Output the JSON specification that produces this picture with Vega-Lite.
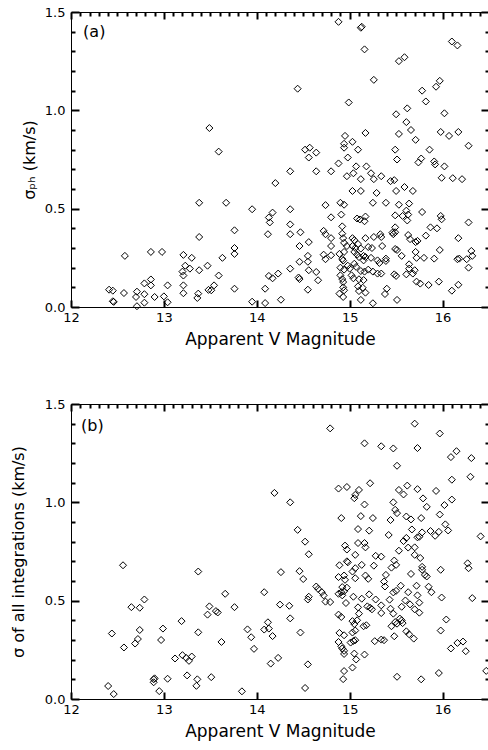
{
  "$schema": "https://vega.github.io/schema/vega-lite/v6.json",
  "padding": {"left": 9, "top": 5, "right": 1, "bottom": 2},
  "background": "white",
  "config": {
    "view": {"stroke": "black", "strokeWidth": 1},
    "axis": {"domain": false, "grid": false, "ticks": true, "tickOpacity": 1, "labelColor": "black", "titleColor": "black", "labelFont": "DejaVu Sans", "titleFont": "DejaVu Sans", "labelFontSize": 13, "titleFontSize": 16, "titleFontWeight": "normal", "tickWidth": 2, "labelOverlap": false, "labelFlush": false, "labelBound": false},
    "text": {"font": "DejaVu Sans"}
  },
  "spacing": 49,
  "datasets": {
    "a": [
      {"m":13.49,"s":0.91},{"m":14.88,"s":1.45},{"m":14.44,"s":1.11},{"m":13.59,"s":0.79},{"m":14.52,"s":0.80},{"m":14.57,"s":0.81},{"m":14.64,"s":0.785},{"m":14.56,"s":0.76},{"m":14.88,"s":0.73},{"m":15.12,"s":1.42},{"m":15.13,"s":1.425},{"m":15.16,"s":1.31},{"m":16.10,"s":1.35},{"m":16.16,"s":1.33},{"m":15.53,"s":1.25},{"m":15.59,"s":1.27},{"m":15.26,"s":1.155},{"m":15.78,"s":1.10},{"m":15.93,"s":1.12},{"m":15.97,"s":1.15},{"m":14.99,"s":1.04},{"m":15.82,"s":1.045},{"m":15.62,"s":1.01},{"m":15.50,"s":0.98},{"m":16.02,"s":0.985},{"m":15.61,"s":0.94},{"m":15.66,"s":0.90},{"m":15.53,"s":0.88},{"m":15.17,"s":0.885},{"m":14.95,"s":0.87},{"m":14.94,"s":0.83},{"m":14.94,"s":0.81},{"m":15.03,"s":0.84},{"m":15.09,"s":0.80},{"m":15.98,"s":0.89},{"m":16.07,"s":0.87},{"m":16.17,"s":0.89},{"m":15.71,"s":0.85},{"m":16.28,"s":0.82},{"m":15.49,"s":0.80},{"m":15.86,"s":0.80},{"m":14.98,"s":0.76},{"m":15.07,"s":0.715},{"m":15.18,"s":0.715},{"m":15.51,"s":0.75},{"m":15.74,"s":0.735},{"m":15.77,"s":0.755},{"m":15.91,"s":0.74},{"m":15.92,"s":0.725},{"m":16.02,"s":0.715},
      {"m":13.38,"s":0.53},{"m":13.38,"s":0.356},{"m":12.58,"s":0.26},{"m":12.86,"s":0.28},{"m":12.98,"s":0.28},{"m":13.21,"s":0.265},{"m":13.30,"s":0.25},{"m":13.23,"s":0.21},{"m":13.20,"s":0.18},{"m":13.21,"s":0.16},{"m":13.28,"s":0.195},{"m":13.38,"s":0.187},{"m":13.47,"s":0.21},{"m":12.86,"s":0.14},{"m":12.86,"s":0.11},{"m":12.79,"s":0.12},{"m":13.04,"s":0.11},{"m":13.21,"s":0.11},{"m":13.21,"s":0.07},{"m":12.41,"s":0.088},{"m":12.45,"s":0.083},{"m":12.57,"s":0.071},{"m":12.71,"s":0.078},{"m":12.70,"s":0.051},{"m":12.79,"s":0.065},{"m":12.90,"s":0.051},{"m":13.00,"s":0.054},{"m":13.04,"s":0.024},{"m":12.79,"s":0.022},{"m":12.45,"s":0.029},{"m":12.46,"s":0.026},{"m":12.71,"s":0.004},{"m":13.37,"s":0.068},{"m":13.36,"s":0.046},{"m":13.48,"s":0.087},
      {"m":14.36,"s":0.69},{"m":14.64,"s":0.69},{"m":14.80,"s":0.69},{"m":14.20,"s":0.63},{"m":13.67,"s":0.53},{"m":13.95,"s":0.497},{"m":14.13,"s":0.455},{"m":14.17,"s":0.48},{"m":14.14,"s":0.43},{"m":14.36,"s":0.497},{"m":14.74,"s":0.518},{"m":14.80,"s":0.456},{"m":13.76,"s":0.39},{"m":14.12,"s":0.37},{"m":14.36,"s":0.42},{"m":14.36,"s":0.37},{"m":14.47,"s":0.38},{"m":14.56,"s":0.33},{"m":14.46,"s":0.31},{"m":14.72,"s":0.387},{"m":14.74,"s":0.37},{"m":14.80,"s":0.35},{"m":14.80,"s":0.31},{"m":13.76,"s":0.30},{"m":13.76,"s":0.27},{"m":13.63,"s":0.25},{"m":13.59,"s":0.16},{"m":13.54,"s":0.11},{"m":13.51,"s":0.085},{"m":13.76,"s":0.093},{"m":14.13,"s":0.158},{"m":14.17,"s":0.146},{"m":14.23,"s":0.17},{"m":14.36,"s":0.195},{"m":14.45,"s":0.15},{"m":14.46,"s":0.142},{"m":14.46,"s":0.23},{"m":14.55,"s":0.26},{"m":14.55,"s":0.23},{"m":14.56,"s":0.187},{"m":14.64,"s":0.178},{"m":14.72,"s":0.266},{"m":14.74,"s":0.243},{"m":14.66,"s":0.136},{"m":14.55,"s":0.088},{"m":14.09,"s":0.093},{"m":13.95,"s":0.027},{"m":14.09,"s":0.02},{"m":14.26,"s":0.037},{"m":14.80,"s":0.263},
      {"m":15.04,"s":0.68},{"m":14.97,"s":0.665},{"m":15.12,"s":0.65},{"m":15.23,"s":0.68},{"m":15.26,"s":0.65},{"m":15.34,"s":0.665},{"m":15.44,"s":0.64},{"m":15.48,"s":0.645},{"m":15.59,"s":0.61},{"m":15.68,"s":0.59},{"m":15.99,"s":0.657},{"m":16.11,"s":0.655},{"m":16.21,"s":0.65},{"m":15.03,"s":0.59},{"m":15.12,"s":0.59},{"m":15.29,"s":0.58},{"m":15.50,"s":0.59},{"m":14.90,"s":0.53},{"m":14.94,"s":0.52},{"m":15.25,"s":0.53},{"m":15.39,"s":0.53},{"m":15.53,"s":0.52},{"m":15.64,"s":0.526},{"m":14.91,"s":0.47},{"m":15.08,"s":0.45},{"m":15.11,"s":0.445},{"m":15.16,"s":0.436},{"m":15.17,"s":0.46},{"m":15.49,"s":0.466},{"m":15.57,"s":0.463},{"m":15.61,"s":0.49},{"m":15.63,"s":0.47},{"m":15.62,"s":0.44},{"m":15.78,"s":0.483},{"m":15.98,"s":0.463},{"m":15.99,"s":0.446},{"m":16.28,"s":0.43},{"m":14.92,"s":0.41},{"m":15.87,"s":0.405},{"m":15.94,"s":0.40},{"m":15.49,"s":0.405},{"m":15.49,"s":0.38},{"m":15.46,"s":0.378},{"m":15.47,"s":0.37},{"m":14.92,"s":0.373},{"m":14.93,"s":0.35},{"m":14.94,"s":0.326},{"m":14.97,"s":0.31},{"m":15.03,"s":0.35},{"m":15.05,"s":0.34},{"m":15.09,"s":0.32},{"m":15.17,"s":0.35},{"m":15.26,"s":0.356},{"m":15.33,"s":0.37},{"m":15.34,"s":0.356},{"m":15.35,"s":0.31},{"m":15.20,"s":0.305},{"m":15.03,"s":0.31},{"m":15.06,"s":0.30},{"m":15.05,"s":0.28},{"m":15.12,"s":0.297},{"m":15.24,"s":0.30},{"m":15.63,"s":0.366},{"m":15.65,"s":0.345},{"m":15.71,"s":0.33},{"m":15.73,"s":0.336},{"m":15.82,"s":0.363},{"m":15.49,"s":0.295},{"m":15.51,"s":0.29},{"m":15.97,"s":0.29},{"m":16.17,"s":0.35},{"m":16.31,"s":0.285},{"m":16.32,"s":0.26},{"m":16.16,"s":0.243},{"m":16.18,"s":0.246},{"m":16.26,"s":0.243},{"m":16.28,"s":0.20},{"m":15.71,"s":0.28},{"m":15.72,"s":0.25},{"m":15.56,"s":0.26},{"m":15.80,"s":0.25},{"m":15.91,"s":0.246},{"m":14.89,"s":0.27},{"m":14.94,"s":0.28},{"m":14.92,"s":0.244},{"m":14.93,"s":0.236},{"m":15.08,"s":0.266},{"m":15.10,"s":0.254},{"m":15.15,"s":0.26},{"m":15.17,"s":0.254},{"m":15.15,"s":0.237},{"m":15.23,"s":0.25},{"m":15.30,"s":0.237},{"m":15.32,"s":0.224},{"m":15.39,"s":0.246},{"m":15.39,"s":0.234},{"m":14.90,"s":0.20},{"m":14.94,"s":0.19},{"m":14.98,"s":0.21},{"m":15.00,"s":0.195},{"m":15.05,"s":0.22},{"m":15.07,"s":0.204},{"m":15.12,"s":0.183},{"m":15.16,"s":0.18},{"m":15.20,"s":0.19},{"m":15.25,"s":0.18},{"m":15.30,"s":0.17},{"m":15.34,"s":0.17},{"m":15.48,"s":0.166},{"m":15.50,"s":0.158},{"m":15.64,"s":0.217},{"m":15.64,"s":0.195},{"m":15.70,"s":0.187},{"m":15.61,"s":0.166},{"m":15.68,"s":0.17},{"m":15.72,"s":0.129},{"m":15.76,"s":0.119},{"m":15.85,"s":0.112},{"m":15.96,"s":0.129},{"m":16.17,"s":0.113},{"m":16.10,"s":0.083},{"m":14.90,"s":0.161},{"m":14.92,"s":0.142},{"m":14.93,"s":0.127},{"m":15.02,"s":0.161},{"m":15.04,"s":0.146},{"m":15.10,"s":0.141},{"m":15.15,"s":0.137},{"m":14.93,"s":0.10},{"m":14.94,"s":0.085},{"m":14.89,"s":0.068},{"m":14.93,"s":0.051},{"m":15.09,"s":0.105},{"m":15.14,"s":0.098},{"m":15.17,"s":0.073},{"m":15.10,"s":0.081},{"m":15.40,"s":0.093},{"m":15.38,"s":0.066},{"m":15.12,"s":0.036},{"m":15.25,"s":0.019},{"m":15.51,"s":0.036}
    ],
    "b": [
      {"m":14.79,"s":1.376},{"m":14.19,"s":1.048},{"m":14.36,"s":1.00},{"m":14.88,"s":1.07},{"m":14.44,"s":0.86},{"m":14.91,"s":0.92},{"m":15.70,"s":1.40},{"m":15.16,"s":1.30},{"m":15.34,"s":1.285},{"m":15.47,"s":1.274},{"m":15.73,"s":1.276},{"m":15.97,"s":1.35},{"m":16.15,"s":1.26},{"m":16.09,"s":1.23},{"m":16.31,"s":1.225},{"m":15.51,"s":1.186},{"m":16.10,"s":1.115},{"m":16.30,"s":1.13},{"m":14.97,"s":1.078},{"m":15.22,"s":1.097},{"m":15.10,"s":1.063},{"m":15.06,"s":1.038},{"m":15.05,"s":1.021},{"m":15.16,"s":0.989},{"m":15.12,"s":0.93},{"m":15.25,"s":0.92},{"m":15.53,"s":1.063},{"m":15.58,"s":1.04},{"m":15.62,"s":1.085},{"m":15.73,"s":1.067},{"m":15.79,"s":1.02},{"m":15.93,"s":1.058},{"m":16.10,"s":1.014},{"m":16.02,"s":0.986},{"m":15.83,"s":0.977},{"m":15.47,"s":1.00},{"m":15.49,"s":0.962},{"m":15.51,"s":0.945},{"m":15.44,"s":0.91},{"m":15.61,"s":0.928},{"m":15.66,"s":0.913},{"m":15.77,"s":0.92},{"m":15.97,"s":0.938},{"m":16.03,"s":0.888},{"m":16.06,"s":0.857},{"m":15.09,"s":0.864},{"m":15.21,"s":0.856},{"m":15.42,"s":0.834},{"m":15.67,"s":0.862},{"m":15.78,"s":0.847},{"m":15.87,"s":0.854},{"m":15.96,"s":0.85},{"m":16.41,"s":0.827},
      {"m":12.56,"s":0.68},{"m":13.37,"s":0.648},{"m":12.79,"s":0.506},{"m":12.65,"s":0.467},{"m":12.74,"s":0.464},{"m":13.49,"s":0.471},{"m":13.47,"s":0.429},{"m":13.19,"s":0.396},{"m":12.44,"s":0.333},{"m":12.74,"s":0.351},{"m":12.72,"s":0.305},{"m":12.99,"s":0.358},{"m":12.97,"s":0.30},{"m":13.37,"s":0.339},{"m":12.69,"s":0.282},{"m":12.57,"s":0.262},{"m":13.12,"s":0.206},{"m":13.20,"s":0.223},{"m":13.24,"s":0.209},{"m":13.27,"s":0.194},{"m":13.30,"s":0.216},{"m":12.89,"s":0.10},{"m":12.90,"s":0.105},{"m":12.89,"s":0.085},{"m":13.04,"s":0.103},{"m":13.25,"s":0.12},{"m":13.36,"s":0.10},{"m":13.35,"s":0.067},{"m":13.51,"s":0.111},{"m":12.95,"s":0.04},{"m":12.40,"s":0.066},{"m":12.46,"s":0.025},
      {"m":14.52,"s":0.80},{"m":14.56,"s":0.736},{"m":14.26,"s":0.645},{"m":14.46,"s":0.65},{"m":14.50,"s":0.61},{"m":14.89,"s":0.68},{"m":14.88,"s":0.62},{"m":13.66,"s":0.535},{"m":14.08,"s":0.543},{"m":14.64,"s":0.572},{"m":14.66,"s":0.56},{"m":14.70,"s":0.543},{"m":14.72,"s":0.527},{"m":14.56,"s":0.52},{"m":14.55,"s":0.506},{"m":14.74,"s":0.495},{"m":14.79,"s":0.493},{"m":14.88,"s":0.535},{"m":13.56,"s":0.447},{"m":13.58,"s":0.44},{"m":13.76,"s":0.467},{"m":14.25,"s":0.48},{"m":14.35,"s":0.474},{"m":14.36,"s":0.41},{"m":13.90,"s":0.354},{"m":13.94,"s":0.314},{"m":13.97,"s":0.255},{"m":14.08,"s":0.353},{"m":14.12,"s":0.39},{"m":14.13,"s":0.358},{"m":14.17,"s":0.32},{"m":13.62,"s":0.29},{"m":14.47,"s":0.338},{"m":14.15,"s":0.18},{"m":14.23,"s":0.209},{"m":14.55,"s":0.176},{"m":13.84,"s":0.039},{"m":14.52,"s":0.056},
      {"m":15.73,"s":0.822},{"m":15.75,"s":0.825},{"m":15.92,"s":0.83},{"m":14.95,"s":0.78},{"m":14.97,"s":0.76},{"m":15.09,"s":0.793},{"m":15.16,"s":0.793},{"m":15.17,"s":0.771},{"m":15.06,"s":0.733},{"m":15.28,"s":0.728},{"m":15.34,"s":0.724},{"m":15.58,"s":0.803},{"m":15.61,"s":0.819},{"m":15.53,"s":0.754},{"m":15.63,"s":0.77},{"m":15.70,"s":0.771},{"m":15.70,"s":0.733},{"m":15.76,"s":0.717},{"m":15.48,"s":0.704},{"m":14.97,"s":0.70},{"m":14.98,"s":0.695},{"m":15.06,"s":0.665},{"m":15.03,"s":0.648},{"m":15.13,"s":0.682},{"m":15.26,"s":0.678},{"m":15.45,"s":0.668},{"m":15.50,"s":0.682},{"m":15.78,"s":0.672},{"m":15.78,"s":0.657},{"m":15.81,"s":0.631},{"m":15.83,"s":0.623},{"m":15.66,"s":0.636},{"m":15.98,"s":0.657},{"m":16.27,"s":0.69},{"m":16.28,"s":0.665},{"m":14.94,"s":0.628},{"m":14.95,"s":0.606},{"m":14.92,"s":0.569},{"m":14.91,"s":0.543},{"m":14.94,"s":0.548},{"m":14.92,"s":0.527},{"m":14.97,"s":0.566},{"m":15.06,"s":0.614},{"m":15.17,"s":0.628},{"m":15.20,"s":0.611},{"m":15.39,"s":0.631},{"m":15.37,"s":0.597},{"m":15.38,"s":0.572},{"m":15.55,"s":0.576},{"m":15.72,"s":0.576},{"m":15.85,"s":0.571},{"m":15.88,"s":0.543},{"m":15.47,"s":0.542},{"m":15.50,"s":0.55},{"m":15.63,"s":0.543},{"m":15.73,"s":0.527},{"m":15.21,"s":0.532},{"m":14.96,"s":0.488},{"m":15.04,"s":0.52},{"m":15.13,"s":0.51},{"m":15.28,"s":0.506},{"m":15.43,"s":0.505},{"m":15.60,"s":0.501},{"m":15.65,"s":0.481},{"m":15.75,"s":0.49},{"m":15.99,"s":0.516},{"m":16.32,"s":0.513},{"m":15.09,"s":0.466},{"m":15.19,"s":0.471},{"m":15.22,"s":0.464},{"m":15.24,"s":0.456},{"m":15.34,"s":0.476},{"m":15.34,"s":0.437},{"m":15.44,"s":0.459},{"m":15.56,"s":0.469},{"m":15.70,"s":0.456},{"m":15.75,"s":0.439},{"m":14.88,"s":0.429},{"m":14.91,"s":0.417},{"m":15.10,"s":0.434},{"m":15.08,"s":0.40},{"m":15.03,"s":0.396},{"m":15.05,"s":0.381},{"m":15.15,"s":0.37},{"m":15.18,"s":0.375},{"m":15.47,"s":0.434},{"m":15.49,"s":0.391},{"m":15.51,"s":0.383},{"m":15.54,"s":0.409},{"m":15.56,"s":0.40},{"m":15.57,"s":0.386},{"m":15.45,"s":0.37},{"m":15.61,"s":0.344},{"m":15.64,"s":0.329},{"m":15.69,"s":0.307},{"m":15.48,"s":0.319},{"m":16.04,"s":0.404},{"m":15.98,"s":0.348},{"m":14.89,"s":0.336},{"m":14.94,"s":0.324},{"m":15.03,"s":0.338},{"m":15.06,"s":0.348},{"m":14.88,"s":0.29},{"m":14.91,"s":0.268},{"m":14.92,"s":0.257},{"m":14.94,"s":0.245},{"m":15.01,"s":0.287},{"m":15.04,"s":0.295},{"m":15.06,"s":0.299},{"m":15.27,"s":0.294},{"m":15.34,"s":0.302},{"m":15.37,"s":0.299},{"m":14.94,"s":0.229},{"m":15.05,"s":0.231},{"m":15.16,"s":0.226},{"m":15.07,"s":0.201},{"m":16.09,"s":0.257},{"m":16.16,"s":0.285},{"m":16.22,"s":0.292},{"m":16.25,"s":0.243},{"m":15.03,"s":0.16},{"m":14.94,"s":0.142},{"m":14.93,"s":0.101},{"m":15.51,"s":0.113},{"m":15.77,"s":0.10},{"m":15.96,"s":0.132},{"m":16.47,"s":0.143}
    ]
  },
  "vconcat": [
    {
      "width": 418, "height": 295,
      "resolve": {"axis": {"x": "independent", "y": "independent"}},
      "layer": [
        {
          "data": {"name": "a"},
          "mark": {"type": "point", "shape": "diamond", "filled": false, "color": "black", "strokeWidth": 1, "size": 49, "opacity": 1},
          "encoding": {
            "x": {"field": "m", "type": "quantitative", "scale": {"domain": [12, 16.5], "nice": false, "zero": false},
              "axis": {"orient": "top", "title": null, "labels": false, "tickColor": "black", "tickCount": 45, "tickSize": {"condition": {"test": "abs(datum.value - round(datum.value)) < 0.001", "value": -7}, "value": -4}}},
            "y": {"field": "s", "type": "quantitative", "scale": {"domain": [0, 1.5], "nice": false, "zero": false},
              "axis": {"orient": "right", "title": null, "labels": false, "tickColor": "black", "tickCount": 15, "tickSize": {"condition": {"test": "abs(datum.value*2 - round(datum.value*2)) < 0.001", "value": -8}, "value": -4}}}
          }
        },
        {
          "data": {"values": [{"m": 12.25, "s": 1.40, "t": "(a)"}]},
          "mark": {"type": "text", "fontSize": 16, "color": "black"},
          "encoding": {
            "x": {"field": "m", "type": "quantitative", "scale": {"domain": [12, 16.5], "nice": false, "zero": false},
              "axis": {"orient": "bottom", "title": "Apparent V Magnitude", "titleFontSize": 17, "tickColor": "black", "tickCount": 45, "format": "d", "labelExpr": "abs(datum.value - round(datum.value)) < 0.001 ? datum.label : ''", "tickSize": {"condition": {"test": "abs(datum.value - round(datum.value)) < 0.001", "value": -7}, "value": -4}, "labelPadding": 11, "titlePadding": 7}},
            "y": {"field": "s", "type": "quantitative", "scale": {"domain": [0, 1.5], "nice": false, "zero": false},
              "axis": {"orient": "left", "title": "σₚₕ (km/s)", "tickColor": "black", "tickCount": 15, "format": ".1f", "labelExpr": "abs(datum.value*2 - round(datum.value*2)) < 0.001 ? datum.label : ''", "tickSize": {"condition": {"test": "abs(datum.value*2 - round(datum.value*2)) < 0.001", "value": -8}, "value": -4}, "labelPadding": 14, "titlePadding": 7}},
            "text": {"field": "t"}
          }
        }
      ]
    },
    {
      "width": 418, "height": 295,
      "resolve": {"axis": {"x": "independent", "y": "independent"}},
      "layer": [
        {
          "data": {"name": "b"},
          "mark": {"type": "point", "shape": "diamond", "filled": false, "color": "black", "strokeWidth": 1, "size": 49, "opacity": 1},
          "encoding": {
            "x": {"field": "m", "type": "quantitative", "scale": {"domain": [12, 16.5], "nice": false, "zero": false},
              "axis": {"orient": "top", "title": null, "labels": false, "tickColor": "black", "tickCount": 45, "tickSize": {"condition": {"test": "abs(datum.value - round(datum.value)) < 0.001", "value": -7}, "value": -4}}},
            "y": {"field": "s", "type": "quantitative", "scale": {"domain": [0, 1.5], "nice": false, "zero": false},
              "axis": {"orient": "right", "title": null, "labels": false, "tickColor": "black", "tickCount": 15, "tickSize": {"condition": {"test": "abs(datum.value*2 - round(datum.value*2)) < 0.001", "value": -8}, "value": -4}}}
          }
        },
        {
          "data": {"values": [{"m": 12.23, "s": 1.39, "t": "(b)"}]},
          "mark": {"type": "text", "fontSize": 16, "color": "black"},
          "encoding": {
            "x": {"field": "m", "type": "quantitative", "scale": {"domain": [12, 16.5], "nice": false, "zero": false},
              "axis": {"orient": "bottom", "title": "Apparent V Magnitude", "titleFontSize": 17, "tickColor": "black", "tickCount": 45, "format": "d", "labelExpr": "abs(datum.value - round(datum.value)) < 0.001 ? datum.label : ''", "tickSize": {"condition": {"test": "abs(datum.value - round(datum.value)) < 0.001", "value": -7}, "value": -4}, "labelPadding": 11, "titlePadding": 7}},
            "y": {"field": "s", "type": "quantitative", "scale": {"domain": [0, 1.5], "nice": false, "zero": false},
              "axis": {"orient": "left", "title": "σ of all integrations (km/s)", "tickColor": "black", "tickCount": 15, "format": ".1f", "labelExpr": "abs(datum.value*2 - round(datum.value*2)) < 0.001 ? datum.label : ''", "tickSize": {"condition": {"test": "abs(datum.value*2 - round(datum.value*2)) < 0.001", "value": -8}, "value": -4}, "labelPadding": 14, "titlePadding": 18}},
            "text": {"field": "t"}
          }
        }
      ]
    }
  ]
}
